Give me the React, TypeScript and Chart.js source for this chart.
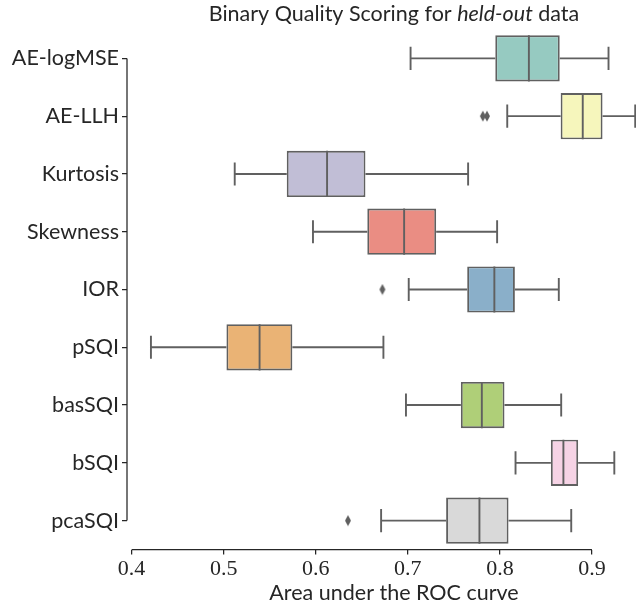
import React, { useEffect, useRef } from "react";
import { Chart, registerables } from "chart.js";

Chart.register(...registerables);

const categories = ["AE-logMSE", "AE-LLH", "Kurtosis", "Skewness", "IOR", "pSQI", "basSQI", "bSQI", "pcaSQI"];
const whiskerLow = [0.703, 0.808, 0.512, 0.597, 0.701, 0.421, 0.698, 0.817, 0.671];
const q1 = [0.795, 0.866, 0.5685, 0.656, 0.7645, 0.503, 0.7576, 0.8554, 0.7416];
const median = [0.8315, 0.89, 0.6123, 0.696, 0.794, 0.539, 0.7804, 0.869, 0.7778];
const q3 = [0.865, 0.9115, 0.654, 0.7308, 0.8163, 0.5746, 0.805, 0.885, 0.8094];
const whiskerHigh = [0.918, 0.947, 0.7655, 0.797, 0.864, 0.6735, 0.8666, 0.9243, 0.8775];
const outlierCategories = ["AE-LLH", "AE-LLH", "IOR", "pcaSQI"];
const outlierValues = [0.7815, 0.786, 0.6724, 0.635];
const boxColors = ["#96cac1", "#f6f6bc", "#c1bed6", "#ea8d83", "#8aafc9", "#eab375", "#afcf78", "#f6d3e5", "#d9d9d9"];
const xTicks = [0.4, 0.5, 0.6, 0.7, 0.8, 0.9];

const LINE = "#606060";
const AXIS = "#262626";
const SANS = "Lato, 'DejaVu Sans', sans-serif";
const SERIF = "'Liberation Serif', 'DejaVu Serif', serif";

function makeDiamond(): HTMLCanvasElement {
  const c = document.createElement("canvas");
  c.width = 8;
  c.height = 12;
  const g = c.getContext("2d")!;
  g.fillStyle = LINE;
  g.beginPath();
  g.moveTo(4, 0.5);
  g.lineTo(7, 6);
  g.lineTo(4, 11.5);
  g.lineTo(1, 6);
  g.closePath();
  g.fill();
  return c;
}

const boxPlugin = {
  id: "boxParts",
  afterDatasetsDraw(chart: any) {
    const ctx = chart.ctx;
    const xs = chart.scales.x;
    const ys = chart.scales.y;
    const meta = chart.getDatasetMeta(0);
    ctx.save();
    ctx.strokeStyle = LINE;
    ctx.lineWidth = 1.9;
    ctx.lineCap = "butt";
    categories.forEach((_, i) => {
      const el = meta.data[i];
      const h = el ? el.height : 46;
      const y = ys.getPixelForValue(i);
      const xl = xs.getPixelForValue(whiskerLow[i]);
      const x1 = xs.getPixelForValue(q1[i]);
      const x3 = xs.getPixelForValue(q3[i]);
      const xh = xs.getPixelForValue(whiskerHigh[i]);
      const xm = xs.getPixelForValue(median[i]);
      const cap = h / 4;
      ctx.beginPath();
      ctx.moveTo(xl, y);
      ctx.lineTo(x1, y);
      ctx.moveTo(x3, y);
      ctx.lineTo(xh, y);
      ctx.moveTo(xl, y - cap);
      ctx.lineTo(xl, y + cap);
      ctx.moveTo(xh, y - cap);
      ctx.lineTo(xh, y + cap);
      ctx.moveTo(xm, y - h / 2);
      ctx.lineTo(xm, y + h / 2);
      ctx.stroke();
    });
    ctx.restore();
  },
  afterDraw(chart: any) {
    const ctx = chart.ctx;
    const xs = chart.scales.x;
    const ys = chart.scales.y;
    const area = chart.chartArea;
    ctx.save();
    ctx.strokeStyle = AXIS;
    ctx.lineWidth = 1.25;
    const yTop = ys.getPixelForValue(0);
    const yBot = ys.getPixelForValue(categories.length - 1);
    ctx.beginPath();
    ctx.moveTo(area.left, yTop);
    ctx.lineTo(area.left, yBot);
    const x0 = xs.getPixelForValue(xTicks[0]);
    const x9 = xs.getPixelForValue(xTicks[xTicks.length - 1]);
    ctx.moveTo(x0, area.bottom);
    ctx.lineTo(x9, area.bottom);
    ctx.stroke();
    const parts = [
      { t: "Binary Quality Scoring for ", f: `21.5px ${SANS}` },
      { t: "held-out", f: `italic 21.5px ${SANS}` },
      { t: " data", f: `21.5px ${SANS}` },
    ];
    let total = 0;
    parts.forEach((p) => {
      ctx.font = p.f;
      total += ctx.measureText(p.t).width;
    });
    let x = (area.left + area.right) / 2 - total / 2;
    ctx.fillStyle = AXIS;
    ctx.textBaseline = "middle";
    ctx.textAlign = "left";
    parts.forEach((p) => {
      ctx.font = p.f;
      ctx.fillText(p.t, x, 14);
      x += ctx.measureText(p.t).width;
    });
    ctx.restore();
  },
};

export default function App() {
  const ref = useRef<HTMLCanvasElement | null>(null);
  useEffect(() => {
    if (!ref.current) return;
    const diamond = makeDiamond();
    const chart = new Chart(ref.current, {
      type: "bar",
      data: {
        labels: categories,
        datasets: [
          {
            type: "bar",
            data: categories.map((_, i) => [q1[i], q3[i]]),
            backgroundColor: boxColors,
            borderColor: LINE,
            borderWidth: 1.9,
            borderSkipped: false,
            categoryPercentage: 0.8,
            barPercentage: 1.0,
            grouped: false,
          } as any,
          {
            type: "scatter",
            data: outlierValues.map((v, i) => ({ x: v, y: outlierCategories[i] })),
            pointStyle: diamond,
            pointRadius: 4,
            backgroundColor: LINE,
            borderColor: LINE,
          } as any,
        ],
      },
      options: {
        indexAxis: "y",
        responsive: false,
        animation: false,
        layout: { padding: { top: 29.5, right: 9, left: 0, bottom: 0 } },
        plugins: { legend: { display: false }, tooltip: { enabled: false }, title: { display: false } },
        scales: {
          x: {
            type: "linear",
            min: 0.395,
            max: 0.975,
            afterBuildTicks: (s: any) => {
              s.ticks = xTicks.map((v) => ({ value: v }));
            },
            afterFit: (s: any) => {
              s.height = 59.5;
            },
            grid: { drawOnChartArea: false, tickLength: 5, color: AXIS, lineWidth: 1.25 },
            border: { display: false },
            ticks: {
              color: AXIS,
              font: { family: SERIF, size: 22 },
              padding: 2,
              callback: (v: any) => Number(v).toFixed(1),
            },
            title: {
              display: true,
              text: "Area under the ROC curve",
              color: AXIS,
              font: { family: SANS, size: 21.5 },
              padding: { top: 0, bottom: 3 },
            },
          },
          y: {
            type: "category",
            afterFit: (s: any) => {
              s.width = 127;
            },
            grid: { drawOnChartArea: false, tickLength: 5, color: AXIS, lineWidth: 1.25, offset: false },
            border: { display: false },
            ticks: { color: AXIS, font: { family: SANS, size: 21.5 }, padding: 3 },
          },
        },
      } as any,
      plugins: [boxPlugin],
    });
    return () => chart.destroy();
  }, []);
  return (
    <div style={{ position: "fixed", left: 0, top: 0, width: 636, height: 609, overflow: "hidden", background: "#fff" }}>
      <canvas ref={ref} width={670} height={609} style={{ display: "block" }} />
    </div>
  );
}
